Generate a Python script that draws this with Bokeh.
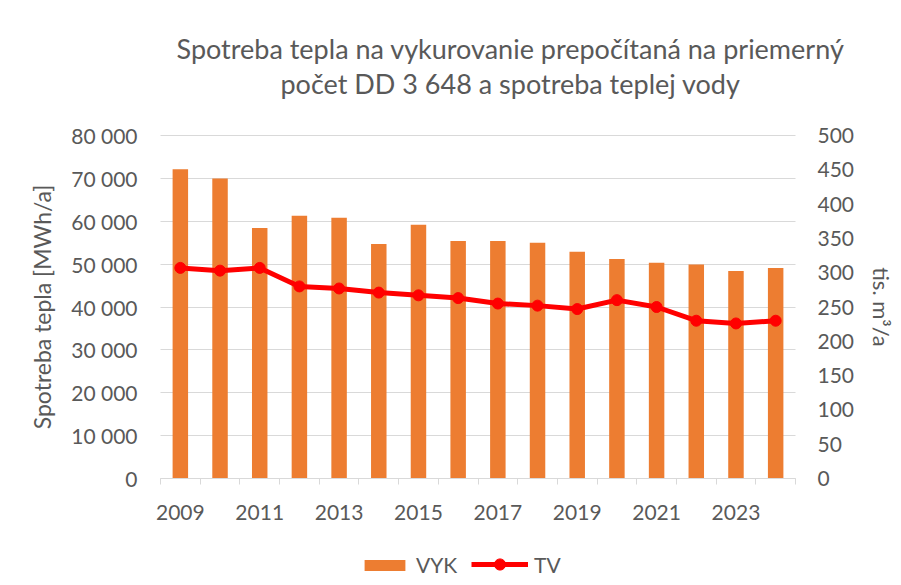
from bokeh.plotting import figure
from bokeh.models import Range1d, LinearAxis, FixedTicker, Legend, LegendItem, Label
from bokeh.embed import file_html
from bokeh.resources import INLINE

# ---- data ----
years = list(range(2009, 2025))
vyk = [72100, 70000, 58400, 61300, 60800, 54700, 59200, 55400, 55400, 55000, 52900, 51200, 50300, 49900, 48400, 49100]
tv = [307, 303, 307, 280, 277, 271, 267, 263, 255, 252, 247, 260, 250, 230, 226, 230]
left_ticks = [0, 10000, 20000, 30000, 40000, 50000, 60000, 70000, 80000]
left_labels = ["0", "10 000", "20 000", "30 000", "40 000", "50 000", "60 000", "70 000", "80 000"]
right_ticks = [0, 50, 100, 150, 200, 250, 300, 350, 400, 450, 500]
x_label_years = [2009, 2011, 2013, 2015, 2017, 2019, 2021, 2023]
title_lines = ["Spotreba tepla na vykurovanie prepočítaná na priemerný",
               "počet DD 3 648 a spotreba teplej vody"]
left_title = "Spotreba tepla [MWh/a]"
right_title = "tis. m³/a"
series_names = ["VYK", "TV"]

FONT = "Lato"
GRAY = "#595959"
GRID = "#d9d9d9"
BAR = "#ED7D31"
RED = "#FF0000"
TICK_FS = "21px"

# ---- layout (pixels): the whole canvas is the plot frame; the plotting band
# spans columns 160..795 and rows 135..478, axes are drawn at its edges ----
W, H = 898, 582
BX0, BX1, BY0, BY1 = 160, 795, 135, 478
x0, x1 = years[0] - 0.5, years[-1] + 0.5
px_per_x = (BX1 - BX0) / (x1 - x0)
x_range = Range1d(x0 - BX0 / px_per_x, x1 + (W - BX1) / px_per_x)
lmax, rmax = left_ticks[-1], right_ticks[-1]
band = BY1 - BY0
y_left = Range1d(-lmax * (H - BY1) / band, lmax + lmax * BY0 / band)
y_right = Range1d(-rmax * (H - BY1) / band, rmax + rmax * BY0 / band)

p = figure(width=W, height=H, output_backend="svg", toolbar_location=None, title=None,
           x_range=x_range, y_range=y_left, min_border=0)
p.outline_line_color = None
p.extra_y_ranges = {"tv": y_right}

# left value axis at the band's left edge; its inward ticks form the horizontal grid
ya = p.yaxis[0]
ya.level = "underlay"
ya.fixed_location = x0
ya.bounds = (0, lmax)
ya.ticker = FixedTicker(ticks=left_ticks)
ya.major_label_overrides = {t: l for t, l in zip(left_ticks, left_labels)}
ya.axis_line_color = None
ya.major_tick_line_color = GRID
ya.major_tick_line_width = 1
ya.major_tick_in = BX1 - BX0
ya.major_tick_out = 0
ya.minor_tick_line_color = None
ya.major_label_text_font = FONT
ya.major_label_text_font_size = TICK_FS
ya.major_label_text_color = GRAY
ya.major_label_standoff = 23
ya.axis_label = left_title
ya.axis_label_text_font = FONT
ya.axis_label_text_font_size = "23px"
ya.axis_label_text_font_style = "normal"
ya.axis_label_text_color = GRAY
ya.axis_label_standoff = 12
p.xgrid.visible = False
p.ygrid.visible = False

bars = p.vbar(x=years, top=vyk, width=0.39, color=BAR, line_color=None)
ln = p.line(x=years, y=tv, y_range_name="tv", line_color=RED, line_width=5)
pts = p.scatter(x=years, y=tv, y_range_name="tv", size=11, color=RED, line_color=RED)

# x axis at value 0
xa = p.xaxis[0]
xa.fixed_location = 0
xa.bounds = (x0, x1)
minor = [y - 0.5 for y in years] + [years[-1] + 0.5]
xa.ticker = FixedTicker(ticks=x_label_years, minor_ticks=minor)
xa.major_tick_out = 0
xa.major_tick_in = 0
xa.minor_tick_out = 6
xa.minor_tick_in = 0
xa.minor_tick_line_color = GRID
xa.axis_line_color = GRID
xa.major_label_text_font = FONT
xa.major_label_text_font_size = TICK_FS
xa.major_label_text_color = GRAY
xa.major_label_standoff = 20

# right value axis at the band's right edge
ra = LinearAxis(y_range_name="tv", ticker=FixedTicker(ticks=right_ticks))
ra.fixed_location = x1
ra.bounds = (0, rmax)
ra.axis_line_color = None
ra.major_tick_line_color = None
ra.minor_tick_line_color = None
ra.major_label_text_font = FONT
ra.major_label_text_font_size = TICK_FS
ra.major_label_text_color = GRAY
ra.major_label_standoff = 16
ra.axis_label = right_title
ra.axis_label_text_font = FONT
ra.axis_label_text_font_size = "22px"
ra.axis_label_text_font_style = "normal"
ra.axis_label_text_color = GRAY
ra.axis_label_standoff = 11
p.add_layout(ra, "right")

# title (screen units from the canvas' bottom-left corner)
for i, t in enumerate(title_lines):
    p.add_layout(Label(x=510, y=H - (48 + 35 * i), x_units="screen", y_units="screen",
                       text=t, text_align="center", text_baseline="middle",
                       text_font=FONT, text_font_size="27px", text_color=GRAY))

common = dict(orientation="horizontal", padding=0, margin=0, border_line_color=None,
              background_fill_alpha=0, label_text_font=FONT, label_text_font_size=TICK_FS,
              label_text_color=GRAY, label_standoff=6)
leg_vyk = Legend(items=[LegendItem(label=series_names[0], renderers=[bars])],
                 location=(359, H - 577), glyph_width=51, glyph_height=14, **common)
leg_tv = Legend(items=[LegendItem(label=series_names[1], renderers=[ln, pts])],
                location=(471, H - 578), glyph_width=57, glyph_height=28, **common)
p.add_layout(leg_vyk, "center")
p.add_layout(leg_tv, "center")

open("out.html", "w").write(file_html(p, INLINE))
